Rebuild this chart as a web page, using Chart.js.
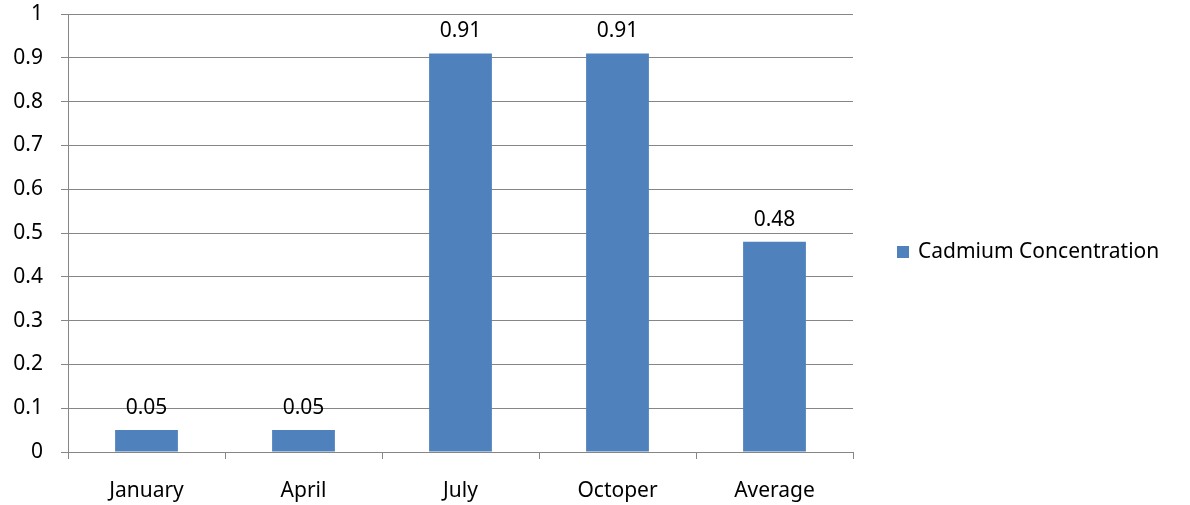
<!DOCTYPE html>
<html>
<head>
<meta charset="utf-8">
<script src="https://cdn.jsdelivr.net/npm/chart.js@4/dist/chart.umd.min.js"></script>
<style>
  html, body { margin: 0; padding: 0; background: #fff; }
  #wrap { width: 1190px; height: 505px; }
</style>
</head>
<body>
<div id="wrap"><canvas id="chart"></canvas></div>
<script>
const categories = ["January", "April", "July", "Octoper", "Average"];
const cadmium = [0.05, 0.05, 0.91, 0.91, 0.48];
const seriesName = "Cadmium Concentration";

const barColor = "#4F81BD";
const gridColor = "#868686";
const fontFamily = "'Noto Sans', sans-serif";
const fontSize = 21;

// value labels above each bar + a simple legend to the right of the plot
const barLabels = {
  id: "barLabels",
  afterDatasetsDraw: function (chart) {
    const { ctx, chartArea } = chart;
    const meta = chart.getDatasetMeta(0);
    ctx.save();
    ctx.font = fontSize + "px " + fontFamily;
    ctx.fillStyle = "#000";
    ctx.textAlign = "center";
    ctx.textBaseline = "middle";
    meta.data.forEach((bar, i) => {
      ctx.fillText(String(cadmium[i]), bar.x, bar.y - 22);
    });

    const legendX = chartArea.right + 44;
    const legendY = (chartArea.top + chartArea.bottom) / 2 + 19;
    ctx.fillStyle = barColor;
    ctx.fillRect(legendX, legendY - 6, 12, 12);
    ctx.fillStyle = "#000";
    ctx.textAlign = "left";
    ctx.fillText(seriesName, legendX + 21, legendY);
    ctx.restore();
  },
};

new Chart(document.getElementById("chart"), {
  type: "bar",
  data: {
    labels: categories,
    datasets: [
      {
        label: seriesName,
        data: cadmium,
        backgroundColor: barColor,
        borderWidth: 0,
        barPercentage: 0.4,
        categoryPercentage: 1,
      },
    ],
  },
  options: {
    responsive: true,
    maintainAspectRatio: false,
    animation: false,
    layout: { padding: { top: 14, right: 337, bottom: 0, left: 0 } },
    plugins: {
      tooltip: { enabled: false },
      legend: { display: false },
    },
    scales: {
      x: {
        afterFit: function (scale) { scale.height = 53; },
        grid: {
          offset: true,
          drawOnChartArea: false,
          drawTicks: true,
          tickLength: 7,
          color: gridColor,
        },
        border: { color: gridColor },
        ticks: { color: "#000", padding: 19, font: { family: fontFamily, size: fontSize } },
      },
      y: {
        min: 0,
        max: 1,
        afterFit: function (scale) {
          scale.width = 68;
          scale.paddingTop = 0;
          scale.paddingBottom = 0;
        },
        grid: { color: gridColor, tickLength: 7 },
        border: { color: gridColor },
        ticks: {
          stepSize: 0.1,
          color: "#000",
          padding: 18,
          font: { family: fontFamily, size: fontSize },
          callback: function (v) { return Math.round(v * 10) / 10; },
        },
      },
    },
  },
  plugins: [barLabels],
});
</script>
</body>
</html>
